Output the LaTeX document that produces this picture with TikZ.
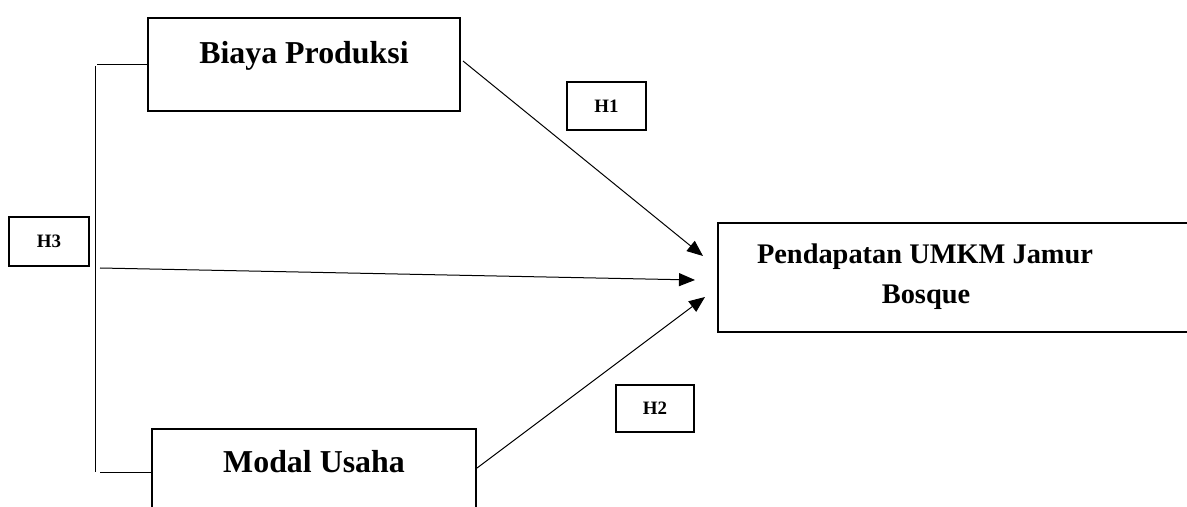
\documentclass[tikz,border=0pt]{standalone}
\usepackage{fontspec}
\setmainfont{Liberation Serif}
\usetikzlibrary{arrows.meta}
\begin{document}
\begin{tikzpicture}[x=1bp,y=-1bp,
  box/.style={draw=black,line width=2bp,rectangle,inner sep=0pt},
  hbox/.style={draw=black,line width=2bp,rectangle,inner sep=0pt,font=\fontsize{19}{22}\selectfont\bfseries},
  bigtxt/.style={anchor=base,inner sep=0pt,font=\fontsize{32}{38}\selectfont\bfseries},
  link/.style={line width=1bp,draw=black},
  arr/.style={link,-{Triangle[length=16bp,width=13bp]}}]
\useasboundingbox (0,0) rectangle (1187,507);
\clip (0,0) rectangle (1187,507);
% boxes
\node[box,minimum width=312bp,minimum height=93bp] (bp) at (304,65) {};
\node[bigtxt] (bpt) at (304,64) {Biaya Produksi};
\node[box,minimum width=324bp,minimum height=101bp] (mu) at (314,479.5) {};
\node[bigtxt] (mut) at (314,472) {Modal Usaha};
\node[box,minimum width=490bp,minimum height=109bp] (pd) at (963,277.5) {};
\node[anchor=base,inner sep=0pt,font=\fontsize{28.5}{40}\selectfont\bfseries] (pdt1) at (925,264) {Pendapatan UMKM Jamur};
\node[anchor=base,inner sep=0pt,font=\fontsize{28.5}{40}\selectfont\bfseries] (pdt2) at (926,304) {Bosque};
% hypothesis labels
\node[hbox,minimum width=79bp,minimum height=48bp] (h1) at (606.5,106) {H1};
\node[hbox,minimum width=78bp,minimum height=47bp] (h2) at (655,408.5) {H2};
\node[hbox,minimum width=80bp,minimum height=49bp] (h3) at (49,241.5) {H3};
% bracket
\coordinate (vt) at (95,66);
\coordinate (vb) at (95,472);
\coordinate (bt) at (97,65);
\coordinate (bb) at (100,472);
\draw[link] (vt) -- (vb);
\draw[link] (bt) -- (bp.west |- bt);
\draw[link] (bb) -- (mu.west |- bb);
% arrows
\coordinate (s1) at (463,61);
\coordinate (t1) at (703,256);
\coordinate (s3) at (100,268);
\coordinate (t3) at (695,280);
\coordinate (s2) at (477,468);
\coordinate (t2) at (705,297);
\draw[arr] (s1) -- (t1);
\draw[arr] (s3) -- (t3);
\draw[arr] (s2) -- (t2);
\end{tikzpicture}
\end{document}
